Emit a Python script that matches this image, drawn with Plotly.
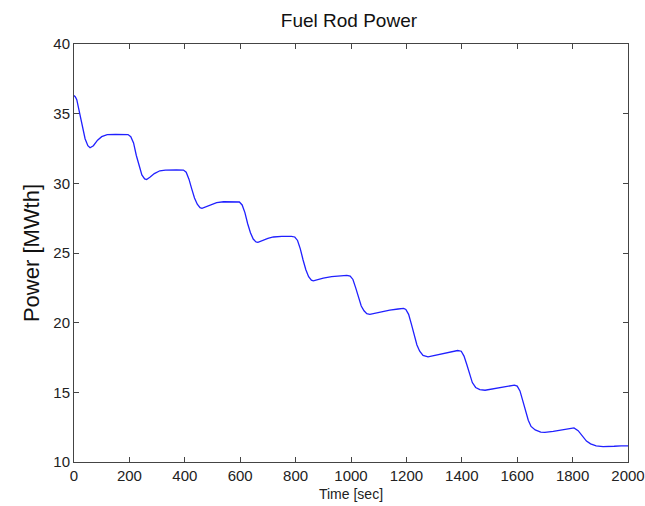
import plotly.graph_objects as go

# fuel rod power trace
time_sec = [0, 5, 10, 20, 30, 40, 50, 58, 70, 85, 100, 120, 150, 180, 195,
            205, 215, 225, 235, 245, 255, 262, 275, 290, 310, 330, 370, 395,
            405, 415, 425, 435, 445, 455, 462, 475, 495, 515, 540, 580, 597,
            607, 617, 627, 637, 647, 657, 664, 680, 700, 720, 750, 785, 797,
            807, 817, 827, 837, 847, 857, 864, 880, 900, 930, 960, 985, 997,
            1007, 1017, 1027, 1037, 1047, 1057, 1068, 1085, 1110, 1140, 1170, 1190, 1198,
            1208, 1218, 1228, 1238, 1248, 1260, 1278, 1300, 1330, 1360, 1385, 1398,
            1408, 1418, 1428, 1438, 1450, 1465, 1484, 1510, 1540, 1570, 1590, 1600,
            1610, 1620, 1630, 1640, 1650, 1665, 1685, 1700, 1730, 1760, 1790, 1805,
            1820, 1835, 1850, 1865, 1885, 1910, 1930, 1950, 1975, 2000]
power_mwth = [36.3, 36.2, 36.0, 35.0, 34.0, 33.2, 32.7, 32.55, 32.7, 33.1, 33.35, 33.5, 33.52, 33.52, 33.5,
              33.35, 32.9, 32.0, 31.2, 30.6, 30.32, 30.28, 30.45, 30.7, 30.9, 30.95, 30.97, 30.95,
              30.8, 30.3, 29.6, 28.95, 28.5, 28.25, 28.2, 28.3, 28.5, 28.62, 28.68, 28.7, 28.66,
              28.45, 27.9, 27.1, 26.45, 26.0, 25.8, 25.77, 25.9, 26.05, 26.15, 26.2, 26.2, 26.15,
              25.9, 25.3, 24.5, 23.8, 23.3, 23.05, 23.0, 23.1, 23.2, 23.3, 23.38, 23.4, 23.35,
              23.1, 22.5, 21.8, 21.2, 20.85, 20.65, 20.6, 20.68, 20.8, 20.9, 20.98, 21.02, 20.95,
              20.6, 19.9, 19.1, 18.4, 17.95, 17.65, 17.55, 17.65, 17.8, 17.9, 18.0, 17.95,
              17.6, 17.0, 16.3, 15.7, 15.35, 15.2, 15.15, 15.25, 15.35, 15.45, 15.52, 15.45,
              15.1, 14.4, 13.6, 13.0, 12.55, 12.3, 12.15, 12.12, 12.2, 12.3, 12.45, 12.45,
              12.25, 11.85, 11.5, 11.3, 11.15, 11.1, 11.1, 11.13, 11.16, 11.16]

x_ticks = list(range(0, 2001, 200))
y_ticks = [10, 15, 20, 25, 30, 35, 40]

fig = go.Figure(go.Scatter(x=time_sec, y=power_mwth, mode='lines',
                           line=dict(color='#2020ff', width=1.3)))

axis_style = dict(showline=True, linecolor='#444', linewidth=1, mirror='ticks',
                  ticks='inside', ticklen=5, tickcolor='#444', showgrid=False,
                  zeroline=False, automargin=False,
                  tickfont=dict(family='Liberation Sans', size=15, color='#222'))

fig.update_xaxes(range=[0, 2000], tickvals=x_ticks,
                 title=dict(text='Time [sec]', font=dict(family='Liberation Sans', size=14, color='#222'), standoff=6),
                 **axis_style)
fig.update_yaxes(range=[10, 40], tickvals=y_ticks,
                 title=dict(text='Power [MWth]', font=dict(family='Liberation Sans', size=22, color='#111'), standoff=7),
                 **axis_style)

fig.update_layout(
    width=645, height=506,
    title=dict(text='Fuel Rod Power', x=0.541, xanchor='center', y=0.96, yanchor='middle',
               font=dict(family='Liberation Sans', size=19, color='#111')),
    margin=dict(l=74, r=17, t=44, b=44),
    plot_bgcolor='white', paper_bgcolor='white',
    showlegend=False,
)

# drop the default 8px page margin so the figure sits at the window corner
fig.write_html("out.html", config={'displayModeBar': False},
               post_script="document.body.style.margin = '0';")
